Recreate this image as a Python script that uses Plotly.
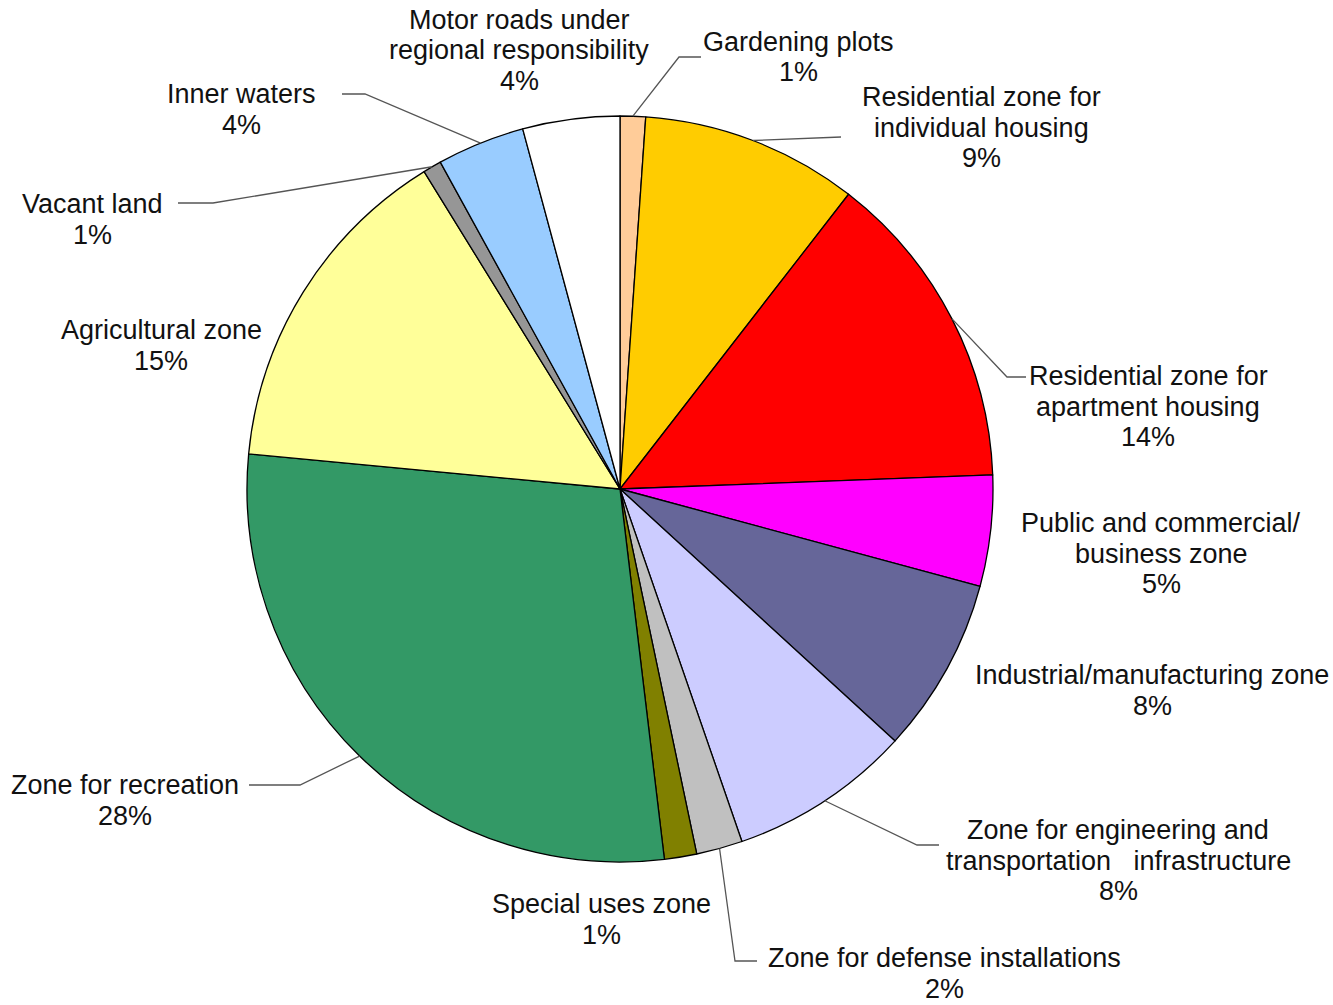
import math
import plotly.graph_objects as go

# ---------------- data ----------------
categories = [
    "Gardening plots",
    "Residential zone for individual housing",
    "Residential zone for apartment housing",
    "Public and commercial/business zone",
    "Industrial/manufacturing zone",
    "Zone for engineering and transportation infrastructure",
    "Zone for defense installations",
    "Special uses zone",
    "Zone for recreation",
    "Agricultural zone",
    "Vacant land",
    "Inner waters",
    "Motor roads under regional responsibility",
]
values = [1.1, 9.4, 13.9, 4.8, 7.6, 7.9, 2.0, 1.4, 28.4, 14.7, 0.8, 3.8, 4.2]
label_lines = [
    ["Gardening plots"],
    ["Residential zone for", "individual housing"],
    ["Residential zone for", "apartment housing"],
    ["Public and commercial/", "business zone"],
    ["Industrial/manufacturing zone"],
    ["Zone for engineering and", "transportation&nbsp;&nbsp; infrastructure"],
    ["Zone for defense installations"],
    ["Special uses zone"],
    ["Zone for recreation"],
    ["Agricultural zone"],
    ["Vacant land"],
    ["Inner waters"],
    ["Motor roads under", "regional responsibility"],
]
colors = ["#FFCC99", "#FFCC00", "#FF0000", "#FF00FF", "#666699", "#CCCCFF",
          "#C0C0C0", "#808000", "#339966", "#FFFF99", "#969696", "#99CCFF", "#FFFFFF"]

# ---------------- layout (pixels) ----------------
W, H = 1333, 1005
CX, CY, R = 620, 489, 373
# label block: centre x, first line y
label_pos = [
    (798, 42), (981, 97), (1148, 376), (1161, 523), (1152, 675), (1118, 830),
    (944, 958), (601, 904), (125, 785), (161, 330), (92, 204), (241, 94), (519, 20),
]
LINE_STEP = 30.5
# leader lines: (elbow, end) or None
leaders = [
    ((679, 57), (701, 57)),
    ((841, 137), (841, 137)),
    ((1007, 377), (1026, 377)),
    None,
    None,
    ((917, 845), (939, 845)),
    ((735, 961), (757, 961)),
    None,
    ((300, 785), (249, 785)),
    None,
    ((213, 203), (178, 203)),
    ((365, 94), (342, 94)),
    None,
]


def px(x):
    return x / W


def py(y):
    return 1 - y / H


total = sum(values)
fig = go.Figure(go.Pie(
    labels=categories,
    values=values,
    sort=False,
    direction="clockwise",
    rotation=0,
    textinfo="none",
    hoverinfo="label+percent",
    marker=dict(colors=colors, line=dict(color="#000000", width=1.3)),
    domain=dict(x=[px(CX - R), px(CX + R)], y=[py(CY + R), py(CY - R)]),
    showlegend=False,
))

annotations = []
shapes = []
cum = 0.0
for i, v in enumerate(values):
    frac = v / total
    mid = cum + frac / 2
    cum += frac
    pct = f"{round(frac * 100)}%"
    lines = label_lines[i] + [pct]
    lx, ly = label_pos[i]
    for k, t in enumerate(lines):
        annotations.append(dict(
            x=px(lx), y=py(ly + k * LINE_STEP), xref="paper", yref="paper",
            text=t, showarrow=False, xanchor="center", yanchor="middle",
            borderpad=0,
            font=dict(family="Liberation Sans, Arial, sans-serif", size=27, color="#111111"),
        ))
    if leaders[i] is not None:
        th = 2 * math.pi * mid
        ex = CX + R * math.sin(th)
        ey = CY - R * math.cos(th)
        (bx, by), (tx, ty) = leaders[i]
        path = f"M {px(ex)},{py(ey)} L {px(bx)},{py(by)} L {px(tx)},{py(ty)}"
        shapes.append(dict(type="path", path=path, xref="paper", yref="paper",
                           line=dict(color="#555555", width=1.3)))

fig.update_layout(
    width=W, height=H,
    margin=dict(l=0, r=0, t=0, b=0),
    paper_bgcolor="white", plot_bgcolor="white",
    showlegend=False,
    annotations=annotations,
    shapes=shapes,
)

fig.write_html("out.html")
